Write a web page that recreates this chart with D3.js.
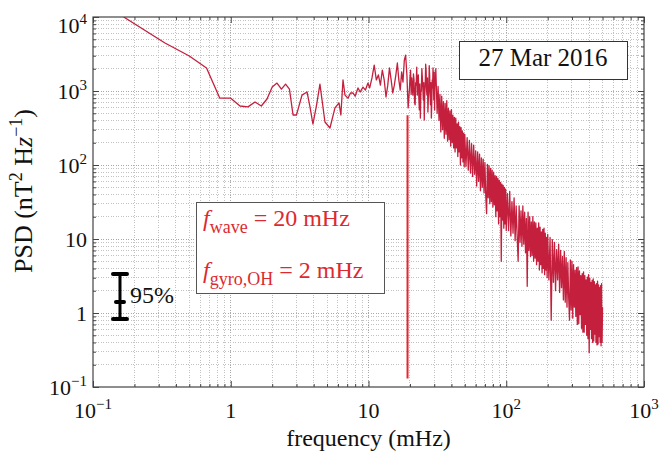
<!DOCTYPE html>
<html><head><meta charset="utf-8">
<script src="https://cdn.jsdelivr.net/npm/d3@7"></script>
<style>
body{margin:0;background:#fff}
svg{display:block}
text{font-family:"Liberation Serif","Times New Roman",serif;fill:#111}
</style>
</head><body>
<svg id="chart" width="660" height="454"></svg>
<script>
// ---------- data ----------
const freqLow = [0.167, 0.333, 0.5, 0.667, 0.833, 1.0, 1.167, 1.333, 1.5, 1.667, 1.833, 2.0, 2.167, 2.333, 2.5, 2.667, 2.833, 3.0];
const psdLow  = [10000, 4460, 2970, 2050, 800, 800, 627, 610, 710, 627, 780, 1130, 1280, 1060, 1240, 1060, 474, 474];

const freqMid = [3.29, 3.58, 3.76, 3.95, 4.2, 4.44, 4.6, 4.83, 5.25, 5.71, 6.11, 6.3, 6.53, 6.75, 7.1, 7.4, 7.71, 8.0, 8.39, 8.7, 9.12, 9.5, 9.91];
const psdMid  = [880, 970, 610, 358, 650, 1240, 755, 381, 316, 590, 690, 474, 1410, 880, 800, 940, 940, 850, 1100, 970, 1130, 1030, 1280];

const freqPeak = [10.2, 10.6, 11.0, 11.4, 11.8, 12.2, 12.6, 13.0, 13.4, 13.8, 14.2, 14.6, 15.0, 15.4, 15.8, 16.2, 16.6, 17.0, 17.4, 17.8, 18.2, 18.6, 19.0, 19.4, 19.8,
  20.0, 20.2, 20.4, 20.6, 20.8, 21.0, 21.2, 21.4, 21.6, 21.8, 22.0, 22.2, 22.4, 22.6, 22.8, 23.0, 23.2, 23.4, 23.6, 23.8, 24.0, 24.2, 24.4, 24.6, 24.8, 25.0, 25.2, 25.4, 25.6, 25.8,
  26.0, 26.2, 26.4, 26.6, 26.8, 27.0, 27.2, 27.4, 27.6, 27.8, 28.0, 28.2, 28.4, 28.6, 28.8, 29.0, 29.2, 29.4, 29.6, 29.8, 30.0, 30.2, 30.4, 30.6, 30.8];
const psdPeak  = [1100, 1500, 2240, 1410, 1650, 1200, 1920, 1410, 830, 1200, 2050, 1410, 940, 1200, 1650, 2390, 1410, 1030, 1810, 1320, 2620, 3060, 1650, 590, 1030,
  1500, 1920, 900, 1500, 1100, 880, 1700, 1410, 700, 650, 1300, 1200, 2100, 880, 1400, 1650, 800, 555, 1250, 431, 950, 1030, 2000, 1500, 1100, 755, 1300, 405, 900, 1200,
  2300, 1920, 1000, 880, 1500, 520, 800, 1030, 2200, 1650, 900, 650, 1300, 431, 700, 1410, 1100, 2050, 1200, 755, 1800, 555, 1500, 1200, 2000];

const freqFall = [31.0, 31.5, 32.0, 32.5, 33.0, 33.5, 34.0, 34.5, 35.0, 35.5, 36.0, 36.5, 37.0, 37.5, 38.0, 38.5, 39.0, 39.5, 40.0, 40.5, 41.0, 41.5, 42.0, 42.5, 43.0, 43.5, 44.0, 44.5, 45.0, 45.5, 46.0, 46.5, 47.0, 47.5, 48.0, 48.5, 49.0, 49.5, 50.0,
  51, 52, 53, 54, 55, 56, 57, 58, 59, 60, 61, 62, 63, 64, 65, 66, 67, 68, 69, 70, 71, 72, 73, 74, 75, 76, 77, 78, 79, 80, 81, 82, 83, 84, 85, 86, 87, 88, 89, 90, 91, 92, 93, 94, 95, 96, 97, 98, 99, 100];
const psdFall  = [1350, 500, 1150, 400, 900, 280, 850, 300, 720, 230, 680, 260, 740, 210, 580, 220, 540, 180, 560, 200, 470, 170, 440, 150, 430, 170, 360, 130, 380, 150, 330, 100, 320, 125, 290, 110, 270, 95, 260,
  95, 235, 85, 215, 78, 195, 70, 185, 75, 155, 52, 150, 60, 140, 45, 125, 50, 120, 42, 108, 38, 22, 102, 36, 98, 30, 90, 32, 85, 27, 80, 29, 72, 20, 70, 24, 66, 16, 62, 20, 58, 5, 55, 18, 53, 14, 50, 16, 47, 13];

const freqTail = [102, 104, 106, 108, 110, 112, 114, 116, 118, 120, 122, 124, 126, 128, 130, 132, 134, 136, 138, 140, 142, 144, 146, 148, 150, 152, 154, 156, 158, 160, 162, 164, 166, 168, 170, 172, 174, 176, 178, 180, 182, 184, 186, 188, 190, 192, 194, 196, 198, 200,
  204, 208, 212, 216, 220, 224, 228, 232, 236, 240, 244, 248, 252, 256, 260, 264, 268, 272, 276, 280, 284, 288, 292, 296, 300, 304, 308, 312, 316, 320, 324, 328, 332, 336, 340, 344, 348, 352, 356, 360, 364, 368, 372, 376, 380, 384, 388, 392, 396, 400, 404, 408, 412, 416, 420, 424, 428, 432, 436, 440, 444, 448, 452, 456, 460, 464, 468, 472, 476, 480, 484, 488, 492, 496, 500];
const psdTail  = [41, 13, 44, 11, 32, 12, 36, 9.5, 28, 11, 5, 28, 9, 24, 8, 28, 8.5, 23, 6.5, 19, 2.3, 23, 7, 20, 5.8, 17, 6, 20, 5, 17, 5.5, 16.5, 4.5, 14, 5, 16.5, 3.8, 14.5, 4.5, 12.5, 3.5, 13.5, 4, 14, 3.3, 12, 3.8, 10.5, 3, 11.5,
  2.8, 10.5, 0.8, 9.8, 2.6, 9, 2, 7.2, 2.8, 8.5, 1.9, 7, 2.2, 5.8, 1.5, 6.8, 1.4, 5.6, 1.2, 4.8, 1.6, 0.8, 5.2, 1.1, 5, 0.85, 4.5, 1.2, 3.8, 0.9, 4.1, 0.7, 4.2, 0.72, 3.7, 0.95, 3.2, 0.62, 3.4, 0.55, 3.6, 0.55, 3.2, 0.7, 2.8, 0.5, 3.05, 0.45, 3.3, 0.29, 2.95, 0.6, 2.6, 0.45, 2.75, 0.4, 2.9, 0.42, 2.65, 0.52, 2.4, 0.4, 2.5, 0.37, 2.7, 0.38, 2.4, 0.48, 2.2, 0.4, 2.35, 0.36, 2.5, 0.4, 1.2];

// wave-frequency marker line
const markerFreq = 19.2;
const markerRange = [0.13, 470];

// 95% confidence bar
const ciFreq = 0.157;
const ciValues = [0.83, 1.41, 3.37]; // lower, centre, upper
const ciLabel = "95%";

// tick labels (exponents)
const xTickExps = [-1, 0, 1, 2, 3];
const yTickExps = [-1, 0, 1, 2, 3, 4];
const xTitle = "frequency (mHz)";
const dateLabel = "27 Mar 2016";
const waveLabel = {sub: "wave", text: " = 20 mHz"};
const gyroLabel = {sub: "gyro,OH", text: " = 2 mHz"};

// ---------- chart ----------
const svg = d3.select("#chart");
const L = 93, R = 644, T = 17, B = 387;
const x = d3.scaleLog().domain([0.1, 1000]).range([L, R]);
const y = d3.scaleLog().domain([0.1, 10000]).range([B, T]);

const allTicksX = x.ticks();
const allTicksY = y.ticks();
const isMajor = v => Math.abs(Math.log10(v) - Math.round(Math.log10(v))) < 1e-9;

// grid
const grid = svg.append("g");
grid.selectAll("line.gx").data(allTicksX.filter(v => v > 0.1 && v < 1000)).enter().append("line")
  .attr("x1", d => x(d)).attr("x2", d => x(d)).attr("y1", T).attr("y2", B)
  .attr("stroke", d => isMajor(d) ? "#a8a8a8" : "#c2c2c2").attr("stroke-width", 1)
  .attr("stroke-dasharray", "1,1.5").attr("shape-rendering", "crispEdges");
grid.selectAll("line.gy").data(allTicksY.filter(v => v > 0.1 && v < 10000)).enter().append("line")
  .attr("y1", d => y(d)).attr("y2", d => y(d)).attr("x1", L).attr("x2", R)
  .attr("stroke", d => isMajor(d) ? "#a8a8a8" : "#c2c2c2").attr("stroke-width", 1)
  .attr("stroke-dasharray", "1,1.5").attr("shape-rendering", "crispEdges");

// annotation box (under data)
const ann = svg.append("g");
ann.append("rect").attr("x", 196.5).attr("y", 202.5).attr("width", 188).attr("height", 91)
  .attr("fill", "#fff").attr("stroke", "#555").attr("stroke-width", 1);
function fLabel(obj, bx, by) {
  const t = ann.append("text").attr("x", bx).attr("y", by).style("font-size", "24px").style("fill", "#dc2a30");
  t.append("tspan").style("font-style", "italic").text("f");
  t.append("tspan").attr("dy", 7).style("font-size", "18px").text(obj.sub);
  t.append("tspan").attr("dy", -7).text(obj.text);
}
fLabel(waveLabel, 203, 226);
fLabel(gyroLabel, 203, 278);

// data line
svg.append("clipPath").attr("id", "clip").append("rect").attr("x", L).attr("y", T).attr("width", R - L).attr("height", B - T);
const freq = [].concat(freqLow, freqMid, freqPeak, freqFall, freqTail);
const psd = [].concat(psdLow, psdMid, psdPeak, psdFall, psdTail);
const pts = freq.map((f, i) => [f, psd[i]]);
svg.append("path").datum(pts).attr("clip-path", "url(#clip)")
  .attr("d", d3.line().x(d => x(d[0])).y(d => y(d[1])))
  .attr("fill", "none").attr("stroke", "#c41f3d").attr("stroke-width", 1.3).attr("stroke-linejoin", "round");

// marker
svg.append("line").attr("x1", x(markerFreq)).attr("x2", x(markerFreq))
  .attr("y1", y(markerRange[0])).attr("y2", y(markerRange[1]))
  .attr("stroke", "#e5262e").attr("stroke-width", 2);

// axes box & ticks
const axisColor = "#444";
const minorX = allTicksX.filter(v => !isMajor(v));
const majorX = allTicksX.filter(isMajor);
const minorY = allTicksY.filter(v => !isMajor(v));
const majorY = allTicksY.filter(isMajor);
function addAxis(gen, tr) {
  const g = svg.append("g").attr("transform", tr).call(gen);
  g.selectAll("path,line").attr("stroke", axisColor);
  g.selectAll("text").remove();
  g.select(".domain").remove();
  return g;
}
addAxis(d3.axisBottom(x).tickValues(minorX).tickSize(-3).tickFormat(""), `translate(0,${B})`);
addAxis(d3.axisBottom(x).tickValues(majorX).tickSize(-6).tickFormat(""), `translate(0,${B})`);
addAxis(d3.axisTop(x).tickValues(minorX).tickSize(-3).tickFormat(""), `translate(0,${T})`);
addAxis(d3.axisTop(x).tickValues(majorX).tickSize(-6).tickFormat(""), `translate(0,${T})`);
addAxis(d3.axisLeft(y).tickValues(minorY).tickSize(-3).tickFormat(""), `translate(${L},0)`);
addAxis(d3.axisLeft(y).tickValues(majorY).tickSize(-6).tickFormat(""), `translate(${L},0)`);
addAxis(d3.axisRight(y).tickValues(minorY).tickSize(-3).tickFormat(""), `translate(${R},0)`);
addAxis(d3.axisRight(y).tickValues(majorY).tickSize(-6).tickFormat(""), `translate(${R},0)`);
svg.append("rect").attr("x", L).attr("y", T).attr("width", R - L).attr("height", B - T)
  .attr("fill", "none").attr("stroke", axisColor).attr("stroke-width", 1.2);

function powLabel(sel, e) {
  if (e === 0) { sel.append("tspan").text("1"); return; }
  sel.append("tspan").text("10");
  if (e !== 1) sel.append("tspan").attr("dy", -9).style("font-size", "15px").text(String(e).replace("-", "\u2212"));
}
xTickExps.forEach(e => {
  const t = svg.append("text").attr("x", x(Math.pow(10, e))).attr("y", 418)
    .attr("text-anchor", "middle").style("font-size", "22px");
  powLabel(t, e);
});
yTickExps.forEach(e => {
  const t = svg.append("text").attr("x", 87).attr("y", Math.max(y(Math.pow(10, e)) + 8, 33))
    .attr("text-anchor", "end").style("font-size", "22px");
  powLabel(t, e);
});

// axis titles
svg.append("text").attr("x", (L + R) / 2).attr("y", 446).attr("text-anchor", "middle")
  .style("font-size", "24px").text(xTitle);
const yt = svg.append("text").attr("transform", "translate(32,191) rotate(-90)")
  .attr("text-anchor", "middle").style("font-size", "26px");
yt.append("tspan").text("PSD (nT");
yt.append("tspan").attr("dy", -10).style("font-size", "18px").text("2");
yt.append("tspan").attr("dy", 10).text(" H");
yt.append("tspan").style("font-style", "italic").text("z");
yt.append("tspan").attr("dy", -10).style("font-size", "18px").text("\u22121");
yt.append("tspan").attr("dy", 10).text(")");

// date box
svg.append("rect").attr("x", 459.5).attr("y", 41.5).attr("width", 168).attr("height", 38)
  .attr("fill", "#fff").attr("stroke", "#333").attr("stroke-width", 1);
svg.append("text").attr("x", 543).attr("y", 66).attr("text-anchor", "middle")
  .style("font-size", "25px").text(dateLabel);

// confidence bar
const cx = x(ciFreq);
const ci = svg.append("g").attr("stroke", "#000").attr("stroke-linecap", "round");
ci.append("line").attr("x1", cx).attr("x2", cx).attr("y1", y(ciValues[0])).attr("y2", y(ciValues[2])).attr("stroke-width", 3);
ci.append("line").attr("x1", cx - 7).attr("x2", cx + 7).attr("y1", y(ciValues[0])).attr("y2", y(ciValues[0])).attr("stroke-width", 4);
ci.append("line").attr("x1", cx - 7).attr("x2", cx + 7).attr("y1", y(ciValues[2])).attr("y2", y(ciValues[2])).attr("stroke-width", 4);
ci.append("line").attr("x1", cx - 4).attr("x2", cx + 4).attr("y1", y(ciValues[1])).attr("y2", y(ciValues[1])).attr("stroke-width", 4);
svg.append("text").attr("x", 130).attr("y", 303).style("font-size", "24px").text(ciLabel);
</script>
</body></html>
